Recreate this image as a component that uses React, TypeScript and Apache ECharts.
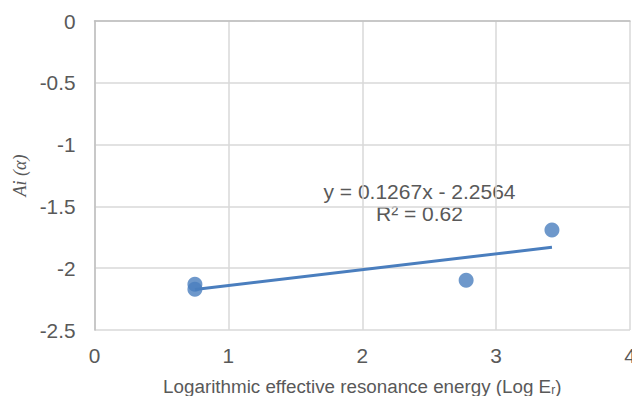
import React, { useEffect, useRef } from "react";
import * as echarts from "echarts";

const xValues = [0.75, 0.75, 2.776, 3.417];
const yValues = [-2.13, -2.17, -2.097, -1.69];
const xTicks = [0, 1, 2, 3, 4];
const yTicks = [0, -0.5, -1, -1.5, -2, -2.5];
const equationText = "y = 0.1267x - 2.2564";
const r2Text = "R² = 0.62";

const color = "#4a7ebe";
const sans = "Liberation Sans, Arial, sans-serif";

function fit(xs: number[], ys: number[]) {
  const n = xs.length;
  const mx = xs.reduce((a, b) => a + b, 0) / n;
  const my = ys.reduce((a, b) => a + b, 0) / n;
  let sxy = 0, sxx = 0;
  for (let i = 0; i < n; i++) {
    sxy += (xs[i] - mx) * (ys[i] - my);
    sxx += (xs[i] - mx) ** 2;
  }
  const slope = sxy / sxx;
  return { slope, intercept: my - slope * mx };
}

export default function App() {
  const ref = useRef<HTMLDivElement>(null);
  useEffect(() => {
    if (!ref.current) return;
    const chart = echarts.init(ref.current, null, { renderer: "svg" });
    const { slope, intercept } = fit(xValues, yValues);
    const xmin = Math.min(...xValues);
    const xmax = Math.max(...xValues);
    const trend = [
      [xmin, slope * xmin + intercept],
      [xmax, slope * xmax + intercept],
    ];
    chart.setOption({
      animation: false,
      grid: { left: 94.5, top: 21, width: 535.5, height: 309, containLabel: false, outerBoundsMode: "none" },
      textStyle: { fontFamily: sans },
      xAxis: {
        type: "value",
        min: xTicks[0],
        max: xTicks[xTicks.length - 1],
        interval: 1,
        name: "Logarithmic effective resonance energy (Log E{sub|r})",
        nameLocation: "middle",
        nameGap: 46,
        nameTextStyle: {
          color: "#595959",
          fontSize: 18.8,
          fontFamily: sans,
          rich: {
            sub: { fontSize: 12, color: "#595959", verticalAlign: "bottom", padding: [8, 0, 0, 0], fontFamily: sans },
          },
        },
        axisLine: { show: true, lineStyle: { color: "#bfbfbf", width: 1.5 } },
        axisTick: { show: false },
        axisLabel: { color: "#595959", fontSize: 20.8, margin: 15, fontFamily: sans },
        splitLine: { show: true, lineStyle: { color: "#d9d9d9", width: 1.5 } },
      },
      yAxis: {
        type: "value",
        min: yTicks[yTicks.length - 1],
        max: yTicks[0],
        interval: 0.5,
        name: "Ai (α)",
        nameLocation: "middle",
        nameGap: 66,
        nameTextStyle: {
          color: "#595959",
          fontSize: 18,
          fontStyle: "italic",
          fontFamily: "Liberation Serif, DejaVu Serif, serif",
        },
        axisLine: { show: true, lineStyle: { color: "#bfbfbf", width: 1.5 } },
        axisTick: { show: false },
        axisLabel: { color: "#595959", fontSize: 20.8, margin: 19, fontFamily: sans },
        splitLine: { show: true, lineStyle: { color: "#d9d9d9", width: 1.5 } },
      },
      series: [
        {
          type: "line",
          data: trend,
          showSymbol: false,
          symbol: "none",
          lineStyle: { color, width: 3 },
          z: 2,
        },
        {
          type: "scatter",
          data: xValues.map((x, i) => [x, yValues[i]]),
          symbol: "circle",
          symbolSize: 15,
          itemStyle: { color },
          z: 3,
        },
      ],
      graphic: [
        {
          type: "text",
          x: 419.5,
          y: 191.5,
          style: {
            text: equationText,
            fill: "#595959",
            fontSize: 21,
            fontFamily: sans,
            align: "center",
            verticalAlign: "middle",
          },
        },
        {
          type: "text",
          x: 419.5,
          y: 213,
          style: {
            text: r2Text,
            fill: "#595959",
            fontSize: 21,
            fontFamily: sans,
            align: "center",
            verticalAlign: "middle",
          },
        },
      ],
    });
    return () => chart.dispose();
  }, []);
  return <div ref={ref} style={{ width: 632, height: 396, position: "absolute", left: 0, top: 0 }} />;
}
